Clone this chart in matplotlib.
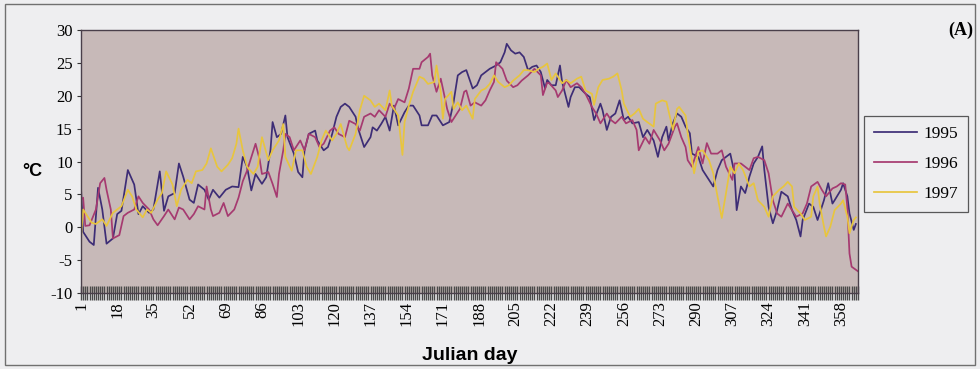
import matplotlib
matplotlib.use("Agg")
import matplotlib.pyplot as plt
from matplotlib.patches import Rectangle

# daily air temperature (approximate, every 2-3 days)
days_1995 = [1, 2, 5, 7, 9, 11, 13, 16, 18, 20, 23, 26, 28, 30, 33, 35, 38, 40, 42, 45,
             47, 49, 52, 54, 56, 59, 61, 63, 66, 69, 72,
             75, 77, 79, 81, 83, 86, 88, 90, 91, 93, 95, 97, 98, 101, 103, 105, 106, 108, 111,
             112, 115, 117, 119, 121, 123, 125, 127, 130, 131, 133, 134, 137, 138, 140, 142, 144, 146,
             148, 150, 153, 155, 157, 160, 161, 164, 166, 168, 170, 171, 174, 176, 178, 180, 182, 185,
             187, 189, 191, 193, 196, 198, 200, 201, 203, 205, 207, 209, 211, 213, 215, 217, 219,
             220, 222, 224, 226, 227, 230, 231, 233, 235, 238, 240, 242, 245, 246, 248, 250, 252, 254,
             256, 258, 260, 263, 265, 267, 270, 272, 274, 276, 277, 279, 281, 283, 285, 287, 288,
             291, 293, 296, 298, 300, 302, 304, 306, 308, 309, 311, 313, 315, 317, 319, 321, 322, 324,
             326, 328, 330, 333, 335, 337, 339, 340, 343, 345, 347, 350, 352, 354, 355, 358, 359, 361,
             362, 364, 365]
temp_1995 = [6, -0.7, -2.2, -2.7, 6, 2.7, -2.5, -1.7, 2, 2.5, 8.7, 6.5, 2, 3.2, 2.2, 2.7, 8.5, 2.5, 4.7, 5.2,
             9.7, 7.7, 4.2, 3.7, 6.5, 5.7, 4.2, 5.7, 4.5, 5.7, 6.2,
             6.1, 10.7, 9.2, 5.6, 8.1, 6.6, 7.6, 11.7, 16, 13.7, 14.2, 17, 13.7, 11.2, 8.4, 7.6, 11.7, 14.2, 14.7,
             13.2, 11.7, 12.2, 14.2, 16.8, 18.3, 18.8, 18.3, 16.8, 15.2, 13.2, 12.2, 13.7, 15.2, 14.7, 15.7, 16.8, 14.7,
             18.5, 15.5, 17.5, 18.5, 18.5, 17, 15.5, 15.5, 17, 17, 16, 15.5, 16, 19, 23.1, 23.6, 23.9, 21.1,
             21.6, 23.1, 23.6, 24.1, 24.6, 25.1, 26.6, 27.9, 26.9, 26.4, 26.6, 25.9, 23.9, 24.4, 24.6, 23.6, 21.1,
             22.4, 21.6, 21.6, 24.6, 22.1, 18.3, 19.8, 21.3, 21.3, 20.3, 19.8, 16.3, 18.8, 17.8, 14.8, 16.8, 17.3, 19.3,
             16.3, 16.8, 15.8, 16, 13.7, 14.8, 13.2, 10.7, 13.7, 15.3, 13.2, 15.8, 17.3, 16.8, 15.3, 14.3, 11.2,
             10.7, 8.7, 7.2, 6.2, 8.7, 10.2, 10.7, 11.2, 8.2, 2.6, 6.2, 5.2, 7.7, 9.7, 10.7, 12.3, 8.7, 3.1,
             0.6, 2.6, 5.4, 4.7, 2.6, 1.1, -1.4, 1.1, 3.6, 3.1, 1.1, 4.1, 6.7, 3.6, 4.1, 5.7, 6.7, 4.7,
             2.1, -0.4, 0.5]

days_1996 = [1, 2, 3, 5, 8, 10, 12, 13, 15, 16, 19, 21, 23, 26, 28, 30, 33, 35, 37, 40,
             42, 45, 47, 49, 52, 54, 56, 59, 60, 62, 63, 66, 68, 70, 73,
             75, 77, 79, 82, 83, 85, 86, 89, 91, 93, 94, 96, 97, 99, 101, 104, 106, 108, 111,
             113, 115, 118, 120, 122, 125, 127, 130, 132, 134, 137, 139, 141, 144, 146,
             148, 150, 153, 155, 157, 160, 161, 164, 165, 166, 168, 170, 171, 173, 175, 177, 179, 181,
             182, 184, 186, 189, 191, 193, 195, 196, 199, 201, 204, 206, 208, 211, 214, 217, 218,
             220, 221, 224, 225, 227, 229, 231, 234, 236, 238, 241, 243, 245, 248, 250, 252, 255, 257,
             260, 262, 263, 266, 268, 270, 273, 275, 277, 280, 281, 283, 285, 286, 288, 290,
             291, 293, 295, 297, 300, 302, 304, 307, 308, 311, 313, 315, 317, 319, 322, 324, 326, 328,
             330, 333, 335, 337, 340, 342, 344, 347, 349, 351, 354, 356, 358, 360, 361, 362, 363, 366]
temp_1996 = [4.2, 4.5, 0.2, 0.3, 2.7, 6.7, 7.5, 5.7, 2.7, -1.7, -1.2, 1.7, 2.2, 2.7, 4.7, 3.7, 2.7, 1.2, 0.3, 1.7,
             2.7, 1.2, 3, 2.7, 1.2, 2, 3.2, 2.7, 6.2, 2.7, 1.7, 2.2, 3.7, 1.7, 2.7,
             4.5, 7, 8.6, 11.7, 12.7, 10.2, 8.1, 8.4, 6.6, 4.6, 8.1, 11.7, 14.2, 13.7, 11.7, 13.2, 11.7, 14.2, 13.7,
             12.2, 12.7, 14.7, 15.2, 14.2, 13.7, 16.2, 15.7, 14.7, 16.8, 17.3, 16.8, 17.8, 16.8, 18.8,
             18, 19.5, 19, 21.1, 24.1, 24.1, 25.1, 25.9, 26.4, 23.1, 20.6, 22.6, 21.1, 18, 16, 17, 18, 20.6,
             20.8, 18.5, 19, 18.5, 19.3, 20.8, 22.1, 25.1, 24.1, 22.3, 21.3, 21.6, 22.3, 23.1, 24.1, 23.1, 20.1,
             22, 21.9, 20.8, 19.8, 20.8, 22.4, 21.3, 21.9, 21.3, 20.3, 18.3, 17.3, 15.8, 17.3, 16.3, 15.8, 16.8, 15.8,
             16.3, 14.8, 11.7, 13.7, 12.7, 14.8, 13.2, 11.7, 12.7, 15.3, 15.8, 13.7, 12.2, 10.2, 9.2, 11.2,
             12.2, 9.7, 12.8, 11.2, 11.2, 11.7, 9.2, 7.2, 9.7, 9.7, 9.2, 8.7, 10.5, 10.7, 10.2, 8.2, 4.1, 2.1,
             1.6, 3.6, 2.6, 1.6, 2.1, 3.6, 6.2, 6.9, 5.7, 4.7, 5.9, 6.2, 6.7, 6.5, 3, -4, -6, -6.7]

days_1997 = [1, 2, 4, 6, 8, 11, 13, 16, 18, 20, 23, 25, 27, 30, 32, 34, 37, 39, 41, 44,
             46, 48, 51, 53, 55, 58, 60, 62, 65, 67, 70, 72, 74,
             75, 77, 79, 82, 84, 86, 89, 91, 94, 96, 97, 100, 102, 105, 107, 109, 112, 114,
             116, 119, 121, 123, 126, 127, 130, 132, 134, 137, 139, 141, 144, 146,
             147, 150, 151, 152, 153, 155, 157, 160, 162, 164, 167, 168, 170, 171, 172, 175, 176, 178,
             180, 182, 185, 186, 189, 191, 193, 195, 197, 200, 202, 204, 207, 209, 211, 214, 216, 218,
             220, 222, 224, 227, 229, 231, 234, 236, 238, 241, 242, 244, 246, 249, 251, 253, 255, 256,
             259, 261, 263, 265, 267, 270, 271, 274, 276, 278, 279, 281, 282, 285, 286, 288, 289,
             291, 293, 296, 298, 300, 302, 304, 306, 308, 310, 312, 315, 317, 319, 322, 324, 326, 329,
             331, 333, 335, 336, 339, 341, 344, 345, 347, 348, 350, 351, 353, 355, 358, 359, 361, 362,
             364, 365]
temp_1997 = [-1.7, 2.7, 1.7, 0.7, 0.5, 1.2, 0.2, 2.2, 2.7, 3.2, 5.7, 4.7, 2.7, 1.5, 2.7, 2.2, 4.2, 5.2, 8.5, 6.5,
             3.2, 5.7, 7.2, 6.7, 8.5, 8.7, 9.7, 12, 9.2, 8.5, 9.5, 10.5, 12.7,
             15, 11.7, 9.2, 8.1, 9.2, 13.7, 10.2, 11.7, 13.2, 15.7, 10.7, 8.6, 11.7, 11.7, 9.2, 8.1, 10.7, 13.2,
             14.7, 13.2, 14.2, 15.7, 12.2, 11.7, 14.2, 17.8, 20, 19.3, 18.3, 18.8, 17.8, 20.8,
             18.5, 17, 14, 11, 16, 18.5, 20.6, 22.9, 22.6, 21.8, 22.1, 24.6, 20.6, 16.5, 19.5, 20.6, 18, 19,
             17.8, 18.5, 16.5, 19.5, 20.8, 21.1, 21.8, 23.1, 22.1, 21.3, 21.6, 22.3, 23.1, 23.9, 23.9, 23.6, 24.1, 24.4,
             24.9, 22.4, 23.4, 21.9, 22.4, 21.9, 22.6, 22.9, 20.8, 20.3, 18.6, 21.3, 22.4, 22.6, 22.9, 23.4, 20.8, 18.8,
             16.8, 17.3, 18, 16.5, 16, 15.3, 18.8, 19.3, 19.1, 16.3, 14.8, 18, 18.3, 17, 14.3, 10.2, 8.2,
             11.5, 11.7, 10.2, 8.2, 4.7, 1.4, 5.2, 9.2, 8.2, 9.7, 8.7, 6.2, 6.7, 4.1, 3.1, 1.6, 4.7, 5.7,
             6.2, 6.9, 6.2, 3.1, 2.1, 1.1, 1.6, 4.7, 6.2, 3.6, 0.1, -1.4, 0.1, 2.6, 3.6, 4.1, 1.6, -0.9,
             1.1, 1.5]

tick_days = list(range(1, 359, 17))
years = ["1995", "1996", "1997"]

FIG_BG = "#eeeef0"
PLOT_BG = "#c7b9b8"
colors = ["#3d2d76", "#a63a70", "#e8c53e"]
SERIF = "Liberation Serif"
SANS = "Liberation Sans"

fig = plt.figure(figsize=(9.8, 3.69), dpi=100, facecolor=FIG_BG)
ax = fig.add_axes([81 / 980, 1 - 293 / 369, 777 / 980, 263 / 369])
ax.set_facecolor(PLOT_BG)

for d, t, yr, c in zip([days_1995, days_1996, days_1997],
                       [temp_1995, temp_1996, temp_1997], years, colors):
    ax.plot(d, t, color=c, linewidth=1.25, label=yr)

ax.set_xlim(1, 366)
ax.set_ylim(-10, 30)
ax.set_yticks(range(-10, 31, 5))
ax.set_yticklabels([str(v) for v in range(-10, 31, 5)], fontfamily=SERIF, fontsize=12)
ax.set_xticks(tick_days)
ax.set_xticklabels([str(d) for d in tick_days], rotation=90, fontfamily=SERIF, fontsize=12)
ax.set_xticks(range(1, 367), minor=True)
ax.tick_params(axis="x", which="both", direction="inout", length=10, width=1.0,
               color="#4a4a4a", pad=1)
ax.tick_params(axis="y", direction="out", length=3, width=0.8, color="#333333", pad=3)

for side, sp in ax.spines.items():
    sp.set_color("#4a3f4a")
    sp.set_linewidth(1.0)

ax.set_xlabel("Julian day", fontfamily=SANS, fontweight="bold", fontsize=14)
ax.xaxis.set_label_coords(0.5, -0.205)

fig.text(22 / 980, 1 - 172 / 369, "°C", fontfamily=SANS, fontweight="bold",
         fontsize=13, ha="left", va="center")
fig.text(973 / 980, 1 - 30 / 369, "(A)", fontfamily=SERIF, fontweight="bold",
         fontsize=13, ha="right", va="center")

leg = fig.legend(loc="center left", bbox_to_anchor=(864 / 980, 1 - 164 / 369),
                 prop={"family": SERIF, "size": 12.5}, frameon=True, fancybox=False,
                 handlelength=2.5, handletextpad=0.4, labelspacing=0.8,
                 borderpad=0.55, borderaxespad=0)
leg.get_frame().set_edgecolor("#333333")
leg.get_frame().set_facecolor(FIG_BG)
leg.get_frame().set_linewidth(0.9)

fig.patches.append(Rectangle((5 / 980, 4 / 369), 970 / 980, 361 / 369,
                             transform=fig.transFigure, fill=False,
                             edgecolor="#707070", linewidth=1.0))

fig.savefig("out.png", dpi=100, facecolor=FIG_BG)
